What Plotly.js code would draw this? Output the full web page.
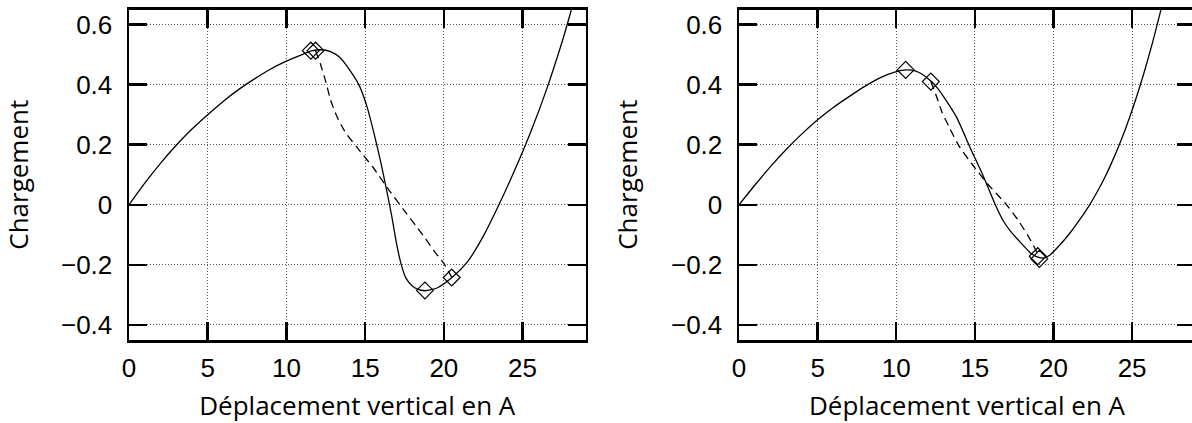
<!DOCTYPE html>
<html>
<head>
<meta charset="utf-8">
<script src="https://cdn.plot.ly/plotly-3.0.1.min.js"></script>
<style>
html,body{margin:0;padding:0;overflow:hidden;background:#fff;}
#chart{width:1196px;height:423px;}
</style>
</head>
<body>
<div id="chart"></div>
<script>
// ---- Data ----
// Left panel
const leftSolidX = [0,1,2,3,4,5,6,7,8,9,10,11,11.6,12.2,12.8,13.4,14,14.6,15.1,15.6,16.0,16.4,16.7,17.0,17.3,17.6,18.0,18.3,18.8,19.6,20.5,21.5,22.5,23.5,24.5,25.5,26.5,27.5,28.0,28.5];
const leftSolidY = [0,0.072,0.138,0.198,0.252,0.300,0.345,0.385,0.420,0.452,0.478,0.500,0.512,0.516,0.510,0.490,0.450,0.400,0.330,0.230,0.140,0.040,-0.040,-0.130,-0.200,-0.245,-0.270,-0.280,-0.286,-0.276,-0.243,-0.190,-0.105,0.000,0.115,0.240,0.380,0.540,0.630,0.725];
const leftDashX = [11.85,12.15,12.5,12.8,13.2,13.7,14.5,15.5,16.5,17.5,18.3,18.8,19.4,20.0,20.5];
const leftDashY = [0.513,0.470,0.410,0.350,0.295,0.245,0.190,0.125,0.050,-0.020,-0.075,-0.110,-0.155,-0.195,-0.241];
const leftMarkX = [11.55,11.85,18.8,20.5];
const leftMarkY = [0.513,0.513,-0.285,-0.242];

// Right panel
const rightSolidX = [0,1,2,3,4,5,6,7,8,9,10,10.6,11.2,11.6,12.2,12.6,13.2,13.85,14.7,15.5,16.3,16.8,17.3,17.9,18.6,19.1,19.4,19.8,20.4,21.06,21.7,22.3,22.8,23.3,23.8,24.3,24.8,25.3,25.8,26.3,26.8,27.1];
const rightSolidY = [0,0.065,0.127,0.184,0.236,0.283,0.324,0.360,0.394,0.423,0.443,0.449,0.446,0.436,0.412,0.390,0.345,0.290,0.190,0.100,0.000,-0.053,-0.090,-0.125,-0.163,-0.176,-0.177,-0.166,-0.134,-0.093,-0.047,0.000,0.045,0.095,0.152,0.215,0.285,0.362,0.447,0.540,0.642,0.705];
const rightDashX = [12.2,12.5,12.9,13.4,14.0,14.9,15.8,16.5,17.1,17.8,18.4,18.75,19.1];
const rightDashY = [0.410,0.370,0.310,0.255,0.195,0.130,0.070,0.030,-0.005,-0.055,-0.105,-0.138,-0.176];
const rightMarkX = [10.6,12.2,19.0,19.1];
const rightMarkY = [0.449,0.410,-0.171,-0.180];

// Axis ticks
const xTickVals = [0,5,10,15,20,25];
const xTickText = ["0","5","10","15","20","25"];
const yTickVals = [-0.4,-0.2,0,0.2,0.4,0.6];
const yTickText = ["\u22120.4","\u22120.2","0","0.2","0.4","0.6"];
const xTitle = "Déplacement vertical en A";
const yTitle = "Chargement";

// ---- Figure ----
const W = 1196, H = 423;
const solid = {color:'#000', width:1.3, shape:'spline', smoothing:0.6};
const dashed = {color:'#000', width:1.3, dash:'8px,5px', shape:'spline', smoothing:0.6};
const marker = {symbol:'diamond-open', size:13, color:'#000', line:{width:1.2, color:'#000'}};

const traces = [
  {x:leftSolidX, y:leftSolidY, xaxis:'x', yaxis:'y', mode:'lines', line:solid},
  {x:leftDashX, y:leftDashY, xaxis:'x', yaxis:'y', mode:'lines', line:dashed},
  {x:leftMarkX, y:leftMarkY, xaxis:'x', yaxis:'y', mode:'markers', marker:marker},
  {x:rightSolidX, y:rightSolidY, xaxis:'x2', yaxis:'y2', mode:'lines', line:solid},
  {x:rightDashX, y:rightDashY, xaxis:'x2', yaxis:'y2', mode:'lines', line:dashed},
  {x:rightMarkX, y:rightMarkY, xaxis:'x2', yaxis:'y2', mode:'markers', marker:marker}
];

const tickFont = {family:'"Liberation Sans", Arial, sans-serif', size:26, color:'#000'};
const titleFont = {family:'"Open Sans", Lato, sans-serif', size:26, color:'#000'};

function xAxis(domain, anchor){
  return {
    domain:domain, anchor:anchor, range:[0,29], autorange:false,
    tickvals:xTickVals, ticktext:xTickText, tickfont:tickFont,
    ticks:'inside', ticklen:18, tickwidth:2.5, tickcolor:'#000',
    showline:true, linewidth:2.5, linecolor:'#000', mirror:'ticks',
    showgrid:true, gridcolor:'#555', gridwidth:1, griddash:'1px,2px',
    zeroline:false, ticklabelstandoff:3,
    title:{text:xTitle, font:titleFont, standoff:16},
    fixedrange:true
  };
}
function yAxis(domain, anchor){
  return {
    domain:domain, anchor:anchor, range:[-0.45,0.65], autorange:false,
    tickvals:yTickVals, ticktext:yTickText, tickfont:tickFont,
    ticks:'inside', ticklen:18, tickwidth:2.5, tickcolor:'#000',
    showline:true, linewidth:2.5, linecolor:'#000', mirror:'ticks',
    showgrid:true, gridcolor:'#555', gridwidth:1, griddash:'1px,2px',
    zeroline:false, ticklabelstandoff:9,
    title:{text:yTitle, font:titleFont, standoff:26},
    fixedrange:true
  };
}

const yDom = [1-340/H, 1-9.5/H];
const layout = {
  width:W, height:H,
  margin:{l:0, r:0, t:0, b:0},
  paper_bgcolor:'#fff', plot_bgcolor:'#fff',
  showlegend:false,
  xaxis: xAxis([129/W, 585.5/W], 'y'),
  yaxis: yAxis(yDom, 'x'),
  xaxis2: xAxis([739/W, 1195/W], 'y2'),
  yaxis2: yAxis(yDom, 'x2')
};

Plotly.newPlot('chart', traces, layout, {displayModeBar:false, staticPlot:true});
</script>
</body>
</html>
